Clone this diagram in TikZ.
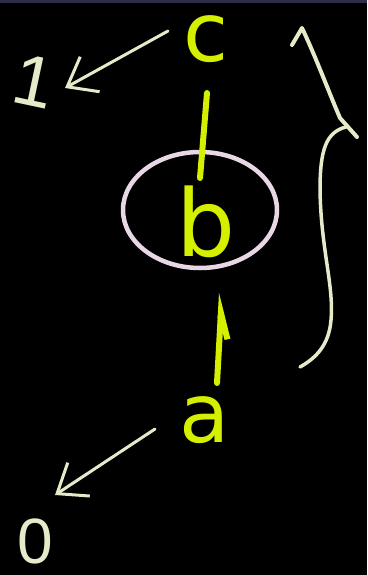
\documentclass[tikz,border=0pt]{standalone}
\usepackage{fontspec}
\setmainfont{DejaVu Sans}
\newfontfamily\digitfont{Liberation Sans}
\usetikzlibrary{arrows.meta,shapes.geometric}
\definecolor{ylw}{HTML}{D4F000}
\definecolor{crm}{HTML}{E4EBC8}
\definecolor{lav}{HTML}{E8D8E6}
\definecolor{band}{HTML}{2E2E48}
\begin{document}
\begin{tikzpicture}[x=1pt,y=-1pt,
  ylet/.style={text=ylw, inner sep=0pt, font=\fontsize{82}{82}\selectfont},
  clet/.style={text=crm, inner sep=0pt, font=\digitfont\fontsize{72}{72}\selectfont},
  carrow/.style={draw=crm, line width=3pt, line cap=round, -{Straight Barb[length=26pt,width=40pt]}},
  yline/.style={draw=ylw, line width=6pt, line cap=round},
  ring/.style={ellipse, draw=lav, line width=4.5pt, minimum width=154pt, minimum height=116pt, inner sep=0pt},
  bracepen/.style={draw=crm, line width=4pt, line cap=round, line join=round}]
\fill[black] (0,0) rectangle (367,575);
\useasboundingbox (0,0) rectangle (367,575);
\fill[band] (0,0) rectangle (367,3);
% letters
\node[ylet] (c) at (206,39) {c};
\node[ylet, font=\fontsize{93}{93}\selectfont] (b) at (206,222) {b};
\node[ylet] (a) at (205,420) {a};
\node[clet, rotate=-12] (one) at (34,81) {1};
\node[clet, font=\digitfont\fontsize{64}{64}\selectfont] (zero) at (35,541) {0};
\node[ring] (ringb) at (200,210) {};
% connectors
\draw[yline] ([shift={(1pt,-54pt)}]c.center) -- ([shift={(-6pt,44pt)}]b.center);
\draw[yline, -{Straight Barb[right,length=26pt,width=16pt]}] ([shift={(12pt,37pt)}]a.center) -- ([shift={(16pt,-71pt)}]b.center);
\draw[carrow] ([shift={(-38pt,8pt)}]c.center) -- ([shift={(31pt,-7pt)}]one.center);
\draw[carrow] ([shift={(-50pt,-9pt)}]a.center) -- ([shift={(20pt,46pt)}]zero.center);
% brace
\draw[bracepen] (292,45) -- (302,28) .. controls (315,55) and (330,95) .. (340,118) -- (357,137);
\draw[bracepen, line width=3.5pt] (346,127) .. controls (326,132) and (320,150) .. (320,190)
  .. controls (321,250) and (334,285) .. (331,320) .. controls (329,345) and (316,358) .. (300,367);
\end{tikzpicture}
\end{document}
